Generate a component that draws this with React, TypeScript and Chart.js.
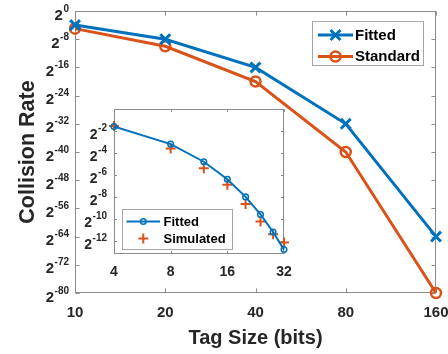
import React, { useEffect, useRef } from "react";
import { Chart, registerables } from "chart.js";

Chart.register(...registerables);

const BLUE = "#0072BD";
const ORANGE = "#D95319";
const TEXT = "#262626";
const AXIS = "#8c8c8c";
const FONT = '"Liberation Sans", Arial, Helvetica, sans-serif';

// Main plot: tag size (bits) vs log2(collision rate)
const tagSizes = [10, 20, 40, 80, 160];
const fittedExp = [-4, -8, -16, -32, -64];
const standardExp = [-5, -10, -20, -40, -80];
const mainXTicks = [10, 20, 40, 80, 160];
const mainYTicks = [0, -8, -16, -24, -32, -40, -48, -56, -64, -72, -80];

// Inset: small tag sizes
const insetTagSizes = [4, 8, 12, 16, 20, 24, 28, 32];
const insetFittedExp = [-1.6, -3.2, -4.8, -6.4, -8, -9.6, -11.2, -12.8];
const insetSimulatedExp = [-1.55, -3.6, -5.4, -6.9, -8.65, -10.25, -11.4, -12.15];
const insetXTicks = [4, 8, 16, 32];
const insetYTicks = [-2, -4, -6, -8, -10, -12];

const mainLegend = ["Fitted", "Standard"];
const insetLegend = ["Fitted", "Simulated"];

function drawMarker(ctx: CanvasRenderingContext2D, style: string, x: number, y: number, r: number, lw: number, color: string) {
  ctx.save();
  ctx.strokeStyle = color;
  ctx.lineWidth = lw;
  ctx.beginPath();
  if (style === "crossRot") {
    const d = r * Math.SQRT1_2;
    ctx.moveTo(x - d, y - d);
    ctx.lineTo(x + d, y + d);
    ctx.moveTo(x - d, y + d);
    ctx.lineTo(x + d, y - d);
  } else if (style === "cross") {
    ctx.moveTo(x - r, y);
    ctx.lineTo(x + r, y);
    ctx.moveTo(x, y - r);
    ctx.lineTo(x, y + r);
  } else {
    ctx.arc(x, y, r, 0, Math.PI * 2);
  }
  ctx.stroke();
  ctx.restore();
}

function drawPow(ctx: CanvasRenderingContext2D, rightX: number, y: number, exp: number, baseSize: number, supSize: number) {
  const expStr = exp === 0 ? "0" : "-" + Math.abs(exp);
  ctx.font = `bold ${baseSize}px ${FONT}`;
  const bw = ctx.measureText("2").width;
  ctx.font = `bold ${supSize}px ${FONT}`;
  const ew = ctx.measureText(expStr).width;
  const x0 = rightX - bw - ew - 0.5;
  ctx.fillStyle = TEXT;
  ctx.textAlign = "left";
  ctx.textBaseline = "alphabetic";
  ctx.font = `bold ${baseSize}px ${FONT}`;
  ctx.fillText("2", x0, y + 8.5);
  ctx.font = `bold ${supSize}px ${FONT}`;
  ctx.fillText(expStr, x0 + bw + 0.5, y + 0.5);
}

type AxesOpts = {
  id: string;
  xTicks: number[];
  yTicks: number[];
  tickLen: number;
  baseSize: number;
  supSize: number;
  xLabelSize: number;
  yLabelGap: number;
  xLabelBaseline: number;
  whiteBg: boolean;
  xTitle?: string;
  yTitle?: string;
  legend: (ctx: CanvasRenderingContext2D) => void;
};

function makeAxesPlugin(o: AxesOpts) {
  return {
    id: "matlabAxes_" + o.id,
    beforeDraw(chart: any) {
      if (!o.whiteBg) return;
      const { left, top, right, bottom } = chart.chartArea;
      const ctx = chart.ctx;
      ctx.save();
      ctx.fillStyle = "#ffffff";
      ctx.fillRect(left, top, right - left, bottom - top);
      ctx.restore();
    },
    beforeDatasetsDraw(chart: any) {
      const ctx: CanvasRenderingContext2D = chart.ctx;
      const { left, top, right, bottom } = chart.chartArea;
      const xs = chart.scales.x;
      const ys = chart.scales.y;
      ctx.save();
      ctx.strokeStyle = AXIS;
      ctx.lineWidth = 1;
      const L = Math.round(left) + 0.5;
      const R = Math.round(right) - 0.5;
      const T = Math.round(top) + 0.5;
      const B = Math.round(bottom) - 0.5;
      ctx.strokeRect(L, T, R - L, B - T);
      ctx.beginPath();
      for (const v of o.xTicks) {
        const px = Math.round(xs.getPixelForValue(v)) + 0.5;
        ctx.moveTo(px, B);
        ctx.lineTo(px, B - o.tickLen);
        ctx.moveTo(px, T);
        ctx.lineTo(px, T + o.tickLen);
      }
      for (const v of o.yTicks) {
        const py = Math.round(ys.getPixelForValue(v)) + 0.5;
        ctx.moveTo(L, py);
        ctx.lineTo(L + o.tickLen, py);
        ctx.moveTo(R, py);
        ctx.lineTo(R - o.tickLen, py);
      }
      ctx.stroke();

      // x tick labels
      ctx.fillStyle = TEXT;
      ctx.font = `bold ${o.xLabelSize}px ${FONT}`;
      ctx.textAlign = "center";
      ctx.textBaseline = "alphabetic";
      for (const v of o.xTicks) {
        ctx.fillText(String(v), xs.getPixelForValue(v), bottom + o.xLabelBaseline);
      }
      // y tick labels (2^n)
      for (const v of o.yTicks) {
        drawPow(ctx, left - o.yLabelGap, ys.getPixelForValue(v), v, o.baseSize, o.supSize);
      }
      // titles
      if (o.xTitle) {
        ctx.font = `bold 20px ${FONT}`;
        ctx.textAlign = "center";
        ctx.fillStyle = TEXT;
        ctx.fillText(o.xTitle, (left + right) / 2, 344);
      }
      if (o.yTitle) {
        ctx.save();
        ctx.translate(33.5, (top + bottom) / 2);
        ctx.rotate(-Math.PI / 2);
        ctx.font = `bold 21.5px ${FONT}`;
        ctx.textAlign = "center";
        ctx.textBaseline = "alphabetic";
        ctx.fillStyle = TEXT;
        ctx.fillText(o.yTitle, 0, 0);
        ctx.restore();
      }
      ctx.restore();
    },
    afterDraw(chart: any) {
      o.legend(chart.ctx);
    },
  };
}

function drawLegendBox(ctx: CanvasRenderingContext2D, x0: number, y0: number, x1: number, y1: number) {
  ctx.save();
  ctx.fillStyle = "#ffffff";
  ctx.fillRect(x0, y0, x1 - x0, y1 - y0);
  ctx.strokeStyle = "#a6a6a6";
  ctx.lineWidth = 1;
  ctx.strokeRect(Math.round(x0) + 0.5, Math.round(y0) + 0.5, Math.round(x1 - x0) - 1, Math.round(y1 - y0) - 1);
  ctx.restore();
}

function drawLegendLine(ctx: CanvasRenderingContext2D, x0: number, x1: number, y: number, color: string, lw: number) {
  ctx.save();
  ctx.strokeStyle = color;
  ctx.lineWidth = lw;
  ctx.beginPath();
  ctx.moveTo(x0, y);
  ctx.lineTo(x1, y);
  ctx.stroke();
  ctx.restore();
}

function drawLegendText(ctx: CanvasRenderingContext2D, text: string, x: number, y: number, size: number) {
  ctx.save();
  ctx.fillStyle = "#000000";
  ctx.font = `bold ${size}px ${FONT}`;
  ctx.textAlign = "left";
  ctx.textBaseline = "middle";
  ctx.fillText(text, x, y + 0.5);
  ctx.restore();
}

export default function App() {
  const mainRef = useRef<HTMLCanvasElement | null>(null);
  const insetRef = useRef<HTMLCanvasElement | null>(null);

  useEffect(() => {
    document.body.style.margin = "0";
    if (!mainRef.current || !insetRef.current) return;

    const mainPlugin = makeAxesPlugin({
      id: "main",
      xTicks: mainXTicks,
      yTicks: mainYTicks,
      tickLen: 4,
      baseSize: 15,
      supSize: 10,
      xLabelSize: 15,
      yLabelGap: 6,
      xLabelBaseline: 23.5,
      whiteBg: false,
      xTitle: "Tag Size (bits)",
      yTitle: "Collision Rate",
      legend: (ctx) => {
        drawLegendBox(ctx, 312, 21, 424, 66);
        const rows = [35, 56.5];
        drawLegendLine(ctx, 318, 353, rows[0], BLUE, 3);
        drawMarker(ctx, "crossRot", 335.5, rows[0], 7, 3, BLUE);
        drawLegendText(ctx, mainLegend[0], 355, rows[0], 15);
        drawLegendLine(ctx, 318, 353, rows[1], ORANGE, 3);
        drawMarker(ctx, "circle", 335.5, rows[1], 5, 2.5, ORANGE);
        drawLegendText(ctx, mainLegend[1], 355, rows[1], 15);
      },
    });

    const mainChart = new Chart(mainRef.current, {
      type: "line",
      data: {
        datasets: [
          {
            label: mainLegend[0],
            data: tagSizes.map((x, i) => ({ x, y: fittedExp[i] })),
            borderColor: BLUE,
            backgroundColor: "rgba(0,0,0,0)",
            borderWidth: 3,
            pointStyle: "crossRot",
            pointRadius: 7,
            pointBorderWidth: 3,
            pointBorderColor: BLUE,
            clip: false,
          } as any,
          {
            label: mainLegend[1],
            data: tagSizes.map((x, i) => ({ x, y: standardExp[i] })),
            borderColor: ORANGE,
            backgroundColor: "rgba(0,0,0,0)",
            borderWidth: 3,
            pointStyle: "circle",
            pointRadius: 5,
            pointBorderWidth: 2.5,
            pointBorderColor: ORANGE,
            pointBackgroundColor: "rgba(0,0,0,0)",
            clip: false,
          } as any,
        ],
      },
      options: {
        animation: false,
        responsive: false,
        devicePixelRatio: 1,
        events: [],
        layout: { padding: { left: 0, right: 12, top: 11, bottom: 0 } },
        elements: { line: { tension: 0 } },
        plugins: { legend: { display: false }, tooltip: { enabled: false } },
        scales: {
          x: {
            type: "logarithmic",
            min: 10,
            max: 160,
            grid: { display: false },
            border: { display: false },
            ticks: { display: false },
            afterFit: (s: any) => {
              s.height = 61;
            },
          },
          y: {
            type: "linear",
            min: -80,
            max: 0,
            grid: { display: false },
            border: { display: false },
            ticks: { display: false },
            afterFit: (s: any) => {
              s.width = 75;
            },
          },
        },
      } as any,
      plugins: [mainPlugin as any],
    });

    const insetPlugin = makeAxesPlugin({
      id: "inset",
      xTicks: insetXTicks,
      yTicks: insetYTicks,
      tickLen: 2.5,
      baseSize: 14,
      supSize: 10,
      xLabelSize: 14,
      yLabelGap: 7,
      xLabelBaseline: 22,
      whiteBg: true,
      legend: (ctx) => {
        drawLegendBox(ctx, 122, 209, 233, 250);
        const rows = [221.5, 238.5];
        drawLegendLine(ctx, 126.5, 160, rows[0], BLUE, 2);
        drawMarker(ctx, "circle", 143.3, rows[0], 2.8, 1.5, BLUE);
        drawLegendText(ctx, insetLegend[0], 163.5, rows[0], 13);
        drawMarker(ctx, "cross", 143.3, rows[1], 5, 2, ORANGE);
        drawLegendText(ctx, insetLegend[1], 163.5, rows[1], 13);
      },
    });

    const insetChart = new Chart(insetRef.current, {
      type: "line",
      data: {
        datasets: [
          {
            label: insetLegend[0],
            data: insetTagSizes.map((x, i) => ({ x, y: insetFittedExp[i] })),
            borderColor: BLUE,
            backgroundColor: "rgba(0,0,0,0)",
            borderWidth: 2,
            pointStyle: "circle",
            pointRadius: 2.8,
            pointBorderWidth: 1.5,
            pointBorderColor: BLUE,
            pointBackgroundColor: "rgba(0,0,0,0)",
            clip: false,
          } as any,
          {
            label: insetLegend[1],
            data: insetTagSizes.map((x, i) => ({ x, y: insetSimulatedExp[i] })),
            showLine: false,
            borderColor: ORANGE,
            backgroundColor: "rgba(0,0,0,0)",
            pointStyle: "cross",
            pointRadius: 5,
            pointBorderWidth: 2,
            pointBorderColor: ORANGE,
            clip: false,
          } as any,
        ],
      },
      options: {
        animation: false,
        responsive: false,
        devicePixelRatio: 1,
        events: [],
        layout: { padding: { left: 0, right: 164, top: 109, bottom: 0 } },
        elements: { line: { tension: 0 } },
        plugins: { legend: { display: false }, tooltip: { enabled: false } },
        scales: {
          x: {
            type: "logarithmic",
            min: 4,
            max: 32,
            grid: { display: false },
            border: { display: false },
            ticks: { display: false },
            afterFit: (s: any) => {
              s.height = 100;
            },
          },
          y: {
            type: "linear",
            min: -13.2,
            max: 0,
            grid: { display: false },
            border: { display: false },
            ticks: { display: false },
            afterFit: (s: any) => {
              s.width = 114;
            },
          },
        },
      } as any,
      plugins: [insetPlugin as any],
    });

    return () => {
      mainChart.destroy();
      insetChart.destroy();
    };
  }, []);

  return (
    <div style={{ position: "fixed", left: 0, top: 0, width: 448, height: 354, background: "#ffffff" }}>
      <canvas ref={mainRef} width={448} height={354} style={{ position: "absolute", left: 0, top: 0, display: "block" }} />
      <canvas
        ref={insetRef}
        width={448}
        height={354}
        style={{ position: "absolute", left: 0, top: 0, display: "block", pointerEvents: "none" }}
      />
    </div>
  );
}
